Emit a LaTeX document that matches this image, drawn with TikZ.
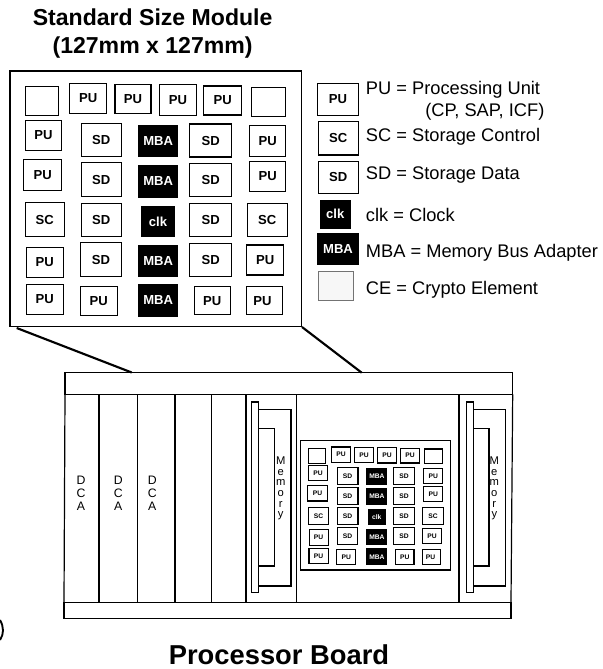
\documentclass[tikz,border=0pt]{standalone}
\usepackage{fontspec}
\setmainfont{Liberation Sans}
\tikzset{
    whitebox/.style={
        rectangle, draw=black, fill=white, line width=0.8pt, inner sep=0pt,
        font=\fontsize{9.8}{11}\selectfont\bfseries, align=center
    },
    blackbox/.style={
        rectangle, draw=black, fill=black, text=white, line width=0.8pt, inner sep=0pt,
        font=\fontsize{9.8}{11}\selectfont\bfseries, align=center
    },
    cryptobox/.style={
        rectangle, draw=black!55, fill=black!3, line width=0.6pt, inner sep=0pt
    },
    frame/.style={rectangle, draw=black, fill=white, line width=0.9pt, inner sep=0pt},
    heading/.style={font=\fontsize{17.3}{21}\selectfont\bfseries, align=center, inner sep=0pt},
    legend/.style={anchor=west, inner sep=0pt, font=\fontsize{13.7}{15}\selectfont},
    slotlabel/.style={inner sep=0pt, align=center, font=\fontsize{9.2}{9.4}\selectfont},
    memlabel/.style={inner sep=0pt, align=center, font=\fontsize{8.4}{8}\selectfont},
    boardline/.style={draw=black, line width=0.9pt},
    leader/.style={draw=black, line width=1.6pt}
}
% x, y, width, height, style, text
\newcommand{\moduleboxes}{
    \foreach \x/\y/\w/\h/\kind/\txt [count=\i] in {
        42/101/32.7/29/whitebox/{}, 88.2/98.5/37/30.3/whitebox/PU, 133/99/36/29.3/whitebox/PU,
        178/99.7/36.7/30.7/whitebox/PU, 222.8/100.5/37.7/29/whitebox/PU, 268.8/102/34.3/29.3/whitebox/{},
        43.5/135.5/36.4/29.6/whitebox/PU, 101.2/140.3/40.3/33.3/whitebox/SD, 158.2/141.3/39/31.3/blackbox/MBA,
        210.8/140.5/41.7/33/whitebox/SD, 267.8/141/36.3/30.6/whitebox/PU,
        42.8/174.7/37.7/30.7/whitebox/PU, 101.2/179.8/40.3/33.7/whitebox/SD, 158.2/181.2/39/32.3/blackbox/MBA,
        210.8/180/41.7/33.4/whitebox/SD, 267.8/176.5/36.3/30.4/whitebox/PU,
        44.7/219.5/38.7/33.6/whitebox/SC, 101.2/219.7/40.3/33.3/whitebox/SD, 158/221.5/33.4/29/blackbox/clk,
        210.8/219.7/41.7/33.3/whitebox/SD, 267.3/220.2/40/33/whitebox/SC,
        44.8/262.3/37/30/whitebox/PU, 101/259.8/40.6/33.7/whitebox/SD, 158.2/261/39/30.6/blackbox/MBA,
        210.8/260/41.7/33.4/whitebox/SD, 265.3/260/37.3/30/whitebox/PU,
        44.7/299.5/37.3/29.6/whitebox/PU, 98.8/300.7/37/28.7/whitebox/PU, 158.2/300.3/39/32/blackbox/MBA,
        212.3/300.8/36/28.3/whitebox/PU, 264.3/300.8/36/28.3/whitebox/PU
    } {
        \node[\kind, minimum width=\w*0.75pt, minimum height=\h*0.75pt] (box\i) at (\x,\y) {\txt};
    }
}

\begin{document}
\begin{tikzpicture}[x=0.75pt, y=-0.75pt]
    \useasboundingbox (0,0) rectangle (603,669);

    \node[heading] (title) at (152.6,34) {Standard Size Module\\(127mm x 127mm)};
    \node[heading, font=\fontsize{20.5}{24}\selectfont\bfseries] (boardtitle) at (279,655) {Processor Board};

    % big module
    \node[frame, minimum width=291.7*0.75pt, minimum height=255.7*0.75pt] (module) at (155.8,198.9) {};
    \moduleboxes

    % key
    \node[whitebox, minimum width=30.5pt, minimum height=23.8pt] (keypu) at (338,99.2) {PU};
    \node[whitebox, minimum width=30pt, minimum height=25pt] (keysc) at (338.3,138.3) {SC};
    \node[whitebox, minimum width=30pt, minimum height=24.2pt] (keysd) at (338.3,177.2) {SD};
    \node[blackbox, minimum width=22pt, minimum height=21.2pt] (keyclk) at (335.3,214.2) {clk};
    \node[blackbox, minimum width=30.5pt, minimum height=23.3pt] (keymba) at (338,248.8) {MBA};
    \node[cryptobox, minimum width=26.2pt, minimum height=21.8pt] (keyce) at (335.8,285.5) {};
    \node[legend] (textpu) at (365.7,90) {PU = Processing Unit};
    \node[legend] (textcp) at (425,111.7) {(CP, SAP, ICF)};
    \node[legend] (textsc) at (365.7,137) {SC = Storage Control};
    \node[legend] (textsd) at (365.7,175) {SD = Storage Data};
    \node[legend] (textclk) at (365.7,215) {clk = Clock};
    \node[legend] (textmba) at (365.7,252.7) {MBA = Memory Bus Adapter};
    \node[legend] (textce) at (365.7,290) {CE = Crypto Element};

    % board
    \draw[boardline] (65,372.7) rectangle (512.7,394.3);
    \draw[boardline] (64,602.3) rectangle (511,618.7);
    \draw[boardline] (65,394.3) -- (64,602.3);
    \draw[boardline] (512.7,394.3) -- (511,602.3);
    \foreach \x in {99,137.3,175,211.7,246,296.7,459}
        \draw[boardline] (\x,394.3) -- (\x,602.3);

    \node[slotlabel] (dcaa) at (81,493.3) {D\\C\\A};
    \node[slotlabel] (dcab) at (118.3,493.3) {D\\C\\A};
    \node[slotlabel] (dcac) at (152.3,493.3) {D\\C\\A};

    % memory cards
    \foreach \x/\n/\t in {0/a/280.7,214.6/b/494.3} {
        \draw[boardline, fill=white] (258.7+\x,409.3) rectangle (291+\x,586);
        \draw[boardline, fill=white] (258.7+\x,428.3) rectangle (274.3+\x,566);
        \draw[boardline, fill=white] (251.7+\x,402) rectangle (258.7+\x,592.3);
        \node[memlabel] (mem\n) at (\t,488.5) {M\\e\\m\\o\\r\\y};
    }

    % small module on the board
    \node[frame, minimum width=150*0.75pt, minimum height=129.3*0.75pt] (smallmodule) at (375.7,505.4) {};
    \begin{scope}[shift={(295.6,404.8)}, xscale=0.514, yscale=0.506, transform shape, name prefix=small-]
        \moduleboxes
    \end{scope}

    % leaders from module to board
    \coordinate (leadla) at (16.7,328);
    \coordinate (leadlb) at (131.7,372.5);
    \coordinate (leadra) at (302,327);
    \coordinate (leadrb) at (361.7,372.7);
    \draw[leader] (leadla) -- (leadlb);
    \draw[leader] (leadra) -- (leadrb);

    \draw[line width=1.4pt] (0,620) .. controls (4,627) and (4,634) .. (0,640);
\end{tikzpicture}
\end{document}
